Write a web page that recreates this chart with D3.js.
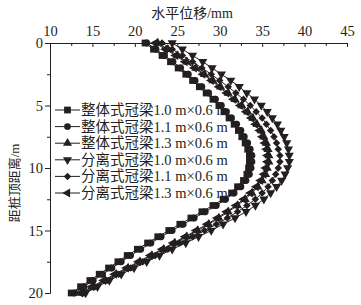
<!DOCTYPE html>
<html>
<head>
<meta charset="utf-8">
<script src="https://cdn.jsdelivr.net/npm/d3@7"></script>
<style>
    body{margin:0;background:#fff;}
    text{font-family:'Liberation Serif','Noto Sans CJK SC',serif;fill:#231f20;}
</style>
</head>
<body>
<div class="chart"></div>
<script>
//画布大小
var width = 361, height = 305;

//距桩顶距离 (m)
var depth = [0,0.5,1,1.5,2,2.5,3,3.5,4,4.5,5,5.5,6,6.5,7,7.5,8,8.5,9,9.5,10,
    10.5,11,11.5,12,12.5,13,13.5,14,14.5,15,15.5,16,16.5,17,17.5,18,18.5,19,19.5,20];

//水平位移 (mm)
var zt10 = [21.2,22.2,23.2,24.2,25.1,26.0,26.8,27.6,28.4,29.2,29.9,30.5,31.1,31.7,32.2,32.6,33.0,33.3,33.5,33.5,33.4,
    33.2,32.8,32.1,31.4,30.4,29.2,27.9,26.6,25.3,24.0,22.7,21.5,20.3,19.1,18.0,16.9,15.8,14.7,13.6,12.5];
var zt11 = [21.4,22.5,23.5,24.5,25.4,26.3,27.1,27.9,28.7,29.5,30.2,30.8,31.4,32.0,32.5,32.9,33.3,33.6,33.8,33.8,33.7,
    33.5,33.1,32.5,31.7,30.7,29.6,28.3,27.0,25.7,24.4,23.1,21.9,20.7,19.5,18.4,17.3,16.2,15.1,14.0,12.9];
var zt13 = [22.7,23.9,25.0,26.1,27.2,28.2,29.2,30.1,31.0,31.8,32.6,33.3,33.9,34.4,34.9,35.2,35.5,35.7,35.8,35.8,35.6,
    35.4,35.0,34.5,33.8,33.0,32.1,31.0,29.9,28.7,27.4,26.1,24.7,23.4,22.0,20.6,19.2,17.8,16.5,15.1,13.7];
var fl10 = [24.4,25.6,26.8,28.0,29.1,30.2,31.3,32.3,33.2,34.1,34.9,35.6,36.2,36.8,37.2,37.6,37.9,38.1,38.2,38.2,38.0,
    37.7,37.3,36.7,36.0,35.2,34.2,33.1,31.8,30.4,29.0,27.5,26.0,24.4,22.9,21.4,19.9,18.4,17.0,15.6,14.2];
var fl11 = [23.2,24.4,25.6,26.8,27.9,29.0,30.0,31.0,31.9,32.8,33.6,34.3,35.0,35.5,36.0,36.4,36.7,36.9,37.1,37.1,36.9,
    36.6,36.2,35.7,35.0,34.2,33.2,32.1,30.9,29.6,28.2,26.8,25.3,23.9,22.4,20.9,19.5,18.1,16.7,15.3,14.0];
var fl13 = [22.4,23.6,24.8,25.9,27.0,28.0,29.0,29.9,30.8,31.6,32.4,33.1,33.7,34.2,34.7,35.0,35.3,35.5,35.6,35.6,35.4,
    35.2,34.8,34.3,33.6,32.8,31.9,30.8,29.7,28.5,27.2,25.9,24.5,23.2,21.8,20.4,19.0,17.6,16.3,14.9,13.6];

var names = ['整体式冠梁1.0 m×0.6 m','整体式冠梁1.1 m×0.6 m','整体式冠梁1.3 m×0.6 m',
    '分离式冠梁1.0 m×0.6 m','分离式冠梁1.1 m×0.6 m','分离式冠梁1.3 m×0.6 m'];
var xTicks = [10,15,20,25,30,35,40,45];
var yTicks = [0,5,10,15,20];

//标记形状
var marks = [
    {type:d3.symbolSquare, size:46, rot:0},
    {type:d3.symbolCircle, size:36, rot:0},
    {type:d3.symbolTriangle, size:36, rot:0},
    {type:d3.symbolTriangle, size:36, rot:180},
    {type:d3.symbolSquare, size:28, rot:45},
    {type:d3.symbolTriangle, size:36, rot:-90}
];
var series = [zt10,zt11,zt13,fl10,fl11,fl13];

var x = d3.scaleLinear().domain([10,45]).range([50,347]);
var y = d3.scaleLinear().domain([0,20]).range([43,293]);

var svg = d3.select('.chart').append('svg')
    .attr('width',width)
    .attr('height',height);

// x轴 (顶部, 刻度朝内)
var gx = svg.append('g').attr('transform','translate(0,43)');
gx.call(d3.axisTop(x).tickValues(xTicks).tickSizeInner(-4).tickSizeOuter(0).tickPadding(7));
gx.append('g').call(d3.axisTop(x).tickValues([12.5,17.5,22.5,27.5,32.5,37.5,42.5])
    .tickSizeInner(-3).tickSizeOuter(0).tickFormat(''));

// y轴
var gy = svg.append('g').attr('transform','translate(50,0)');
gy.call(d3.axisLeft(y).tickValues(yTicks).tickSizeInner(5).tickSizeOuter(0).tickPadding(2));
gy.append('g').call(d3.axisLeft(y).tickValues([2.5,7.5,12.5,17.5])
    .tickSizeInner(3).tickSizeOuter(0).tickFormat(''));

svg.selectAll('.domain').attr('stroke','#231f20');
svg.selectAll('.tick line').attr('stroke','#231f20');
svg.selectAll('.tick text').style('font-size','14.5px').attr('fill','#231f20');

svg.append('text')
    .attr('x',192).attr('y',18)
    .attr('text-anchor','middle')
    .style('font-size','14px')
    .text('水平位移/mm');

svg.append('text')
    .attr('transform','translate(19,183) rotate(-90)')
    .attr('text-anchor','middle')
    .style('font-size','13px')
    .text('距桩顶距离/m');

// 图例
var leg = svg.append('g');
names.forEach(function (n,i) {
    var ly = 110 + i*16.6;
    leg.append('line')
        .attr('x1',55).attr('x2',80)
        .attr('y1',ly).attr('y2',ly)
        .attr('stroke','#231f20').attr('stroke-width',1);
    leg.append('path')
        .attr('d',d3.symbol().type(marks[i].type).size(marks[i].size))
        .attr('transform','translate(67.5,'+ly+') rotate('+marks[i].rot+')')
        .attr('fill','#231f20');
    leg.append('text')
        .attr('x',81).attr('y',ly+5)
        .style('font-size','14.5px')
        .text(n);
});

// 曲线
var line = d3.line()
    .x(function (d) { return x(d[0]); })
    .y(function (d) { return y(d[1]); });

series.forEach(function (s,i) {
    var pts = s.map(function (v,j) { return [v,depth[j]]; });
    var g = svg.append('g');
    g.append('path')
        .attr('d',line(pts))
        .attr('fill','none')
        .attr('stroke','#231f20')
        .attr('stroke-width',1);
    g.selectAll('.pt')
        .data(pts)
        .enter()
        .append('path')
        .attr('d',d3.symbol().type(marks[i].type).size(marks[i].size))
        .attr('transform',function (d) {
            return 'translate('+x(d[0])+','+y(d[1])+') rotate('+marks[i].rot+')';
        })
        .attr('fill','#231f20');
});
</script>
</body>
</html>
